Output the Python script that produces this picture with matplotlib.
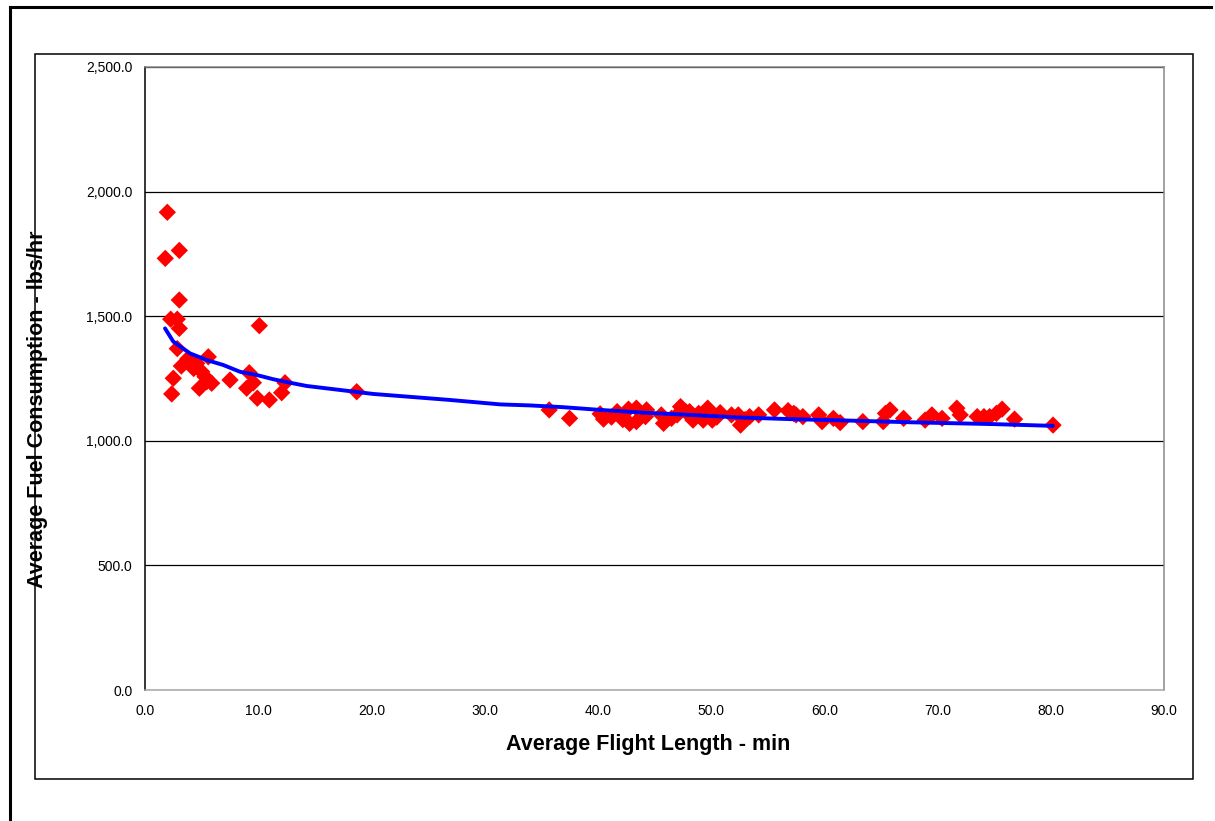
import numpy as np
import matplotlib
matplotlib.use("Agg")
import matplotlib.pyplot as plt
from matplotlib.lines import Line2D
from matplotlib.patches import Rectangle
from matplotlib.ticker import FuncFormatter, MultipleLocator

plt.rcParams['font.family'] = ['Liberation Sans', 'DejaVu Sans']

# observed flights: average flight length (min) vs fuel consumption (lbs/hr)
flight_min = [1.97, 1.79, 3.03, 3.03, 2.27, 2.85, 3.03, 2.85, 3.21, 2.50, 2.36,
              10.10, 4.12, 4.57, 5.59, 5.01, 5.30, 4.80, 5.89, 5.45, 4.3, 3.8,
              7.51, 9.21, 9.57, 8.98, 9.92, 10.98, 12.37, 12.07, 18.70,
              35.7, 37.5, 40.2, 40.5, 41.7, 42.7, 43.4, 42.8, 43.4, 44.2, 44.3,
              45.6, 45.8, 47.3, 47.0, 48.1, 48.4, 48.9, 49.7, 49.3, 50.1, 50.8,
              51.8, 52.4, 52.6, 53.4, 54.2, 55.6, 56.8, 57.5, 57.3, 58.1, 59.5,
              59.8, 60.8, 61.4, 63.4, 65.4, 65.8, 65.2, 67.0, 68.9, 69.5, 70.4,
              71.7, 72.0, 73.5, 74.1, 74.6, 75.2, 75.7, 76.8, 80.2,
              41.2, 42.2, 46.5, 47.8, 50.5, 53.0]
fuel_lbs_hr = [1917, 1732, 1764, 1565, 1488, 1488, 1451, 1370, 1300, 1251, 1188,
               1462, 1317, 1311, 1337, 1277, 1257, 1211, 1231, 1237, 1290, 1330,
               1244, 1273, 1233, 1211, 1171, 1164, 1233, 1193, 1197,
               1124, 1090, 1108, 1087, 1117, 1127, 1131, 1070, 1077, 1097, 1124,
               1104, 1070, 1137, 1104, 1117, 1083, 1110, 1131, 1083, 1083, 1113,
               1104, 1104, 1063, 1097, 1104, 1124, 1121, 1104, 1110, 1097, 1104,
               1077, 1090, 1073, 1077, 1110, 1124, 1077, 1090, 1083, 1104, 1090,
               1131, 1104, 1097, 1097, 1097, 1110, 1127, 1087, 1063,
               1095, 1085, 1090, 1115, 1095, 1085]

# fitted curve
fit_x = [1.77, 2.50, 3.97, 5.45, 6.92, 8.39, 9.87, 11.33, 12.81, 14.28, 17.22,
         20.16, 26.9, 31.4, 34.0, 36.9, 40.2, 44.0, 48.1, 52.3, 57.0, 62.3,
         67.9, 74.9, 80.2]
fit_y = [1451, 1398, 1351, 1324, 1304, 1277, 1264, 1247, 1233, 1220, 1204,
         1188, 1164, 1146, 1142, 1135, 1124, 1113, 1104, 1094, 1087, 1081,
         1074, 1067, 1060]

W, H = 1215, 821
fig = plt.figure(figsize=(W / 100, H / 100), dpi=100)

# frames around the chart
fig.add_artist(Line2D([10 / W, 10 / W], [0, 1 - 7 / H], color='black', lw=2.2,
                      transform=fig.transFigure))
fig.add_artist(Line2D([10 / W, 1211 / W], [1 - 7 / H, 1 - 7 / H], color='black',
                      lw=2.2, transform=fig.transFigure))
fig.add_artist(Rectangle((35 / W, 1 - 779 / H), (1193 - 35) / W, (779 - 54) / H,
                         fill=False, edgecolor='black', lw=1.1,
                         transform=fig.transFigure))

ax = fig.add_axes([145 / W, 1 - 690 / H, (1164 - 145) / W, (690 - 67) / H])

ax.scatter(flight_min, fuel_lbs_hr, marker='D', s=78, color='#ff0000',
           edgecolors='none', zorder=3)
ax.plot(fit_x, fit_y, color='#0000ff', lw=2.8, zorder=4,
        solid_capstyle='round', solid_joinstyle='round')

ax.set_xlim(0, 90)
ax.set_ylim(0, 2500)
ax.xaxis.set_major_locator(MultipleLocator(10))
ax.yaxis.set_major_locator(MultipleLocator(500))
fmt = FuncFormatter(lambda v, p: '{:,.1f}'.format(v))
ax.xaxis.set_major_formatter(fmt)
ax.yaxis.set_major_formatter(fmt)
ax.tick_params(length=0, labelsize=10, colors='black')
ax.tick_params(axis='x', pad=10)
ax.tick_params(axis='y', pad=9)

ax.yaxis.grid(True, color='black', lw=0.9)
ax.set_axisbelow(True)
for side in ['top', 'right']:
    ax.spines[side].set_color('#888888')
ax.spines['bottom'].set_color('#aaaaaa')
ax.spines['left'].set_color('black')
for sp in ax.spines.values():
    sp.set_linewidth(1.1)

fig.text(648 / W, 1 - 744 / H, 'Average Flight Length - min', ha='center',
         va='center', fontsize=15.5, fontweight='bold')
fig.text(38 / W, 1 - 409 / H, 'Average Fuel Consumption - lbs/hr', ha='center',
         va='center', rotation=90, fontsize=15.5, fontweight='bold')

fig.savefig('out.png', dpi=100)
